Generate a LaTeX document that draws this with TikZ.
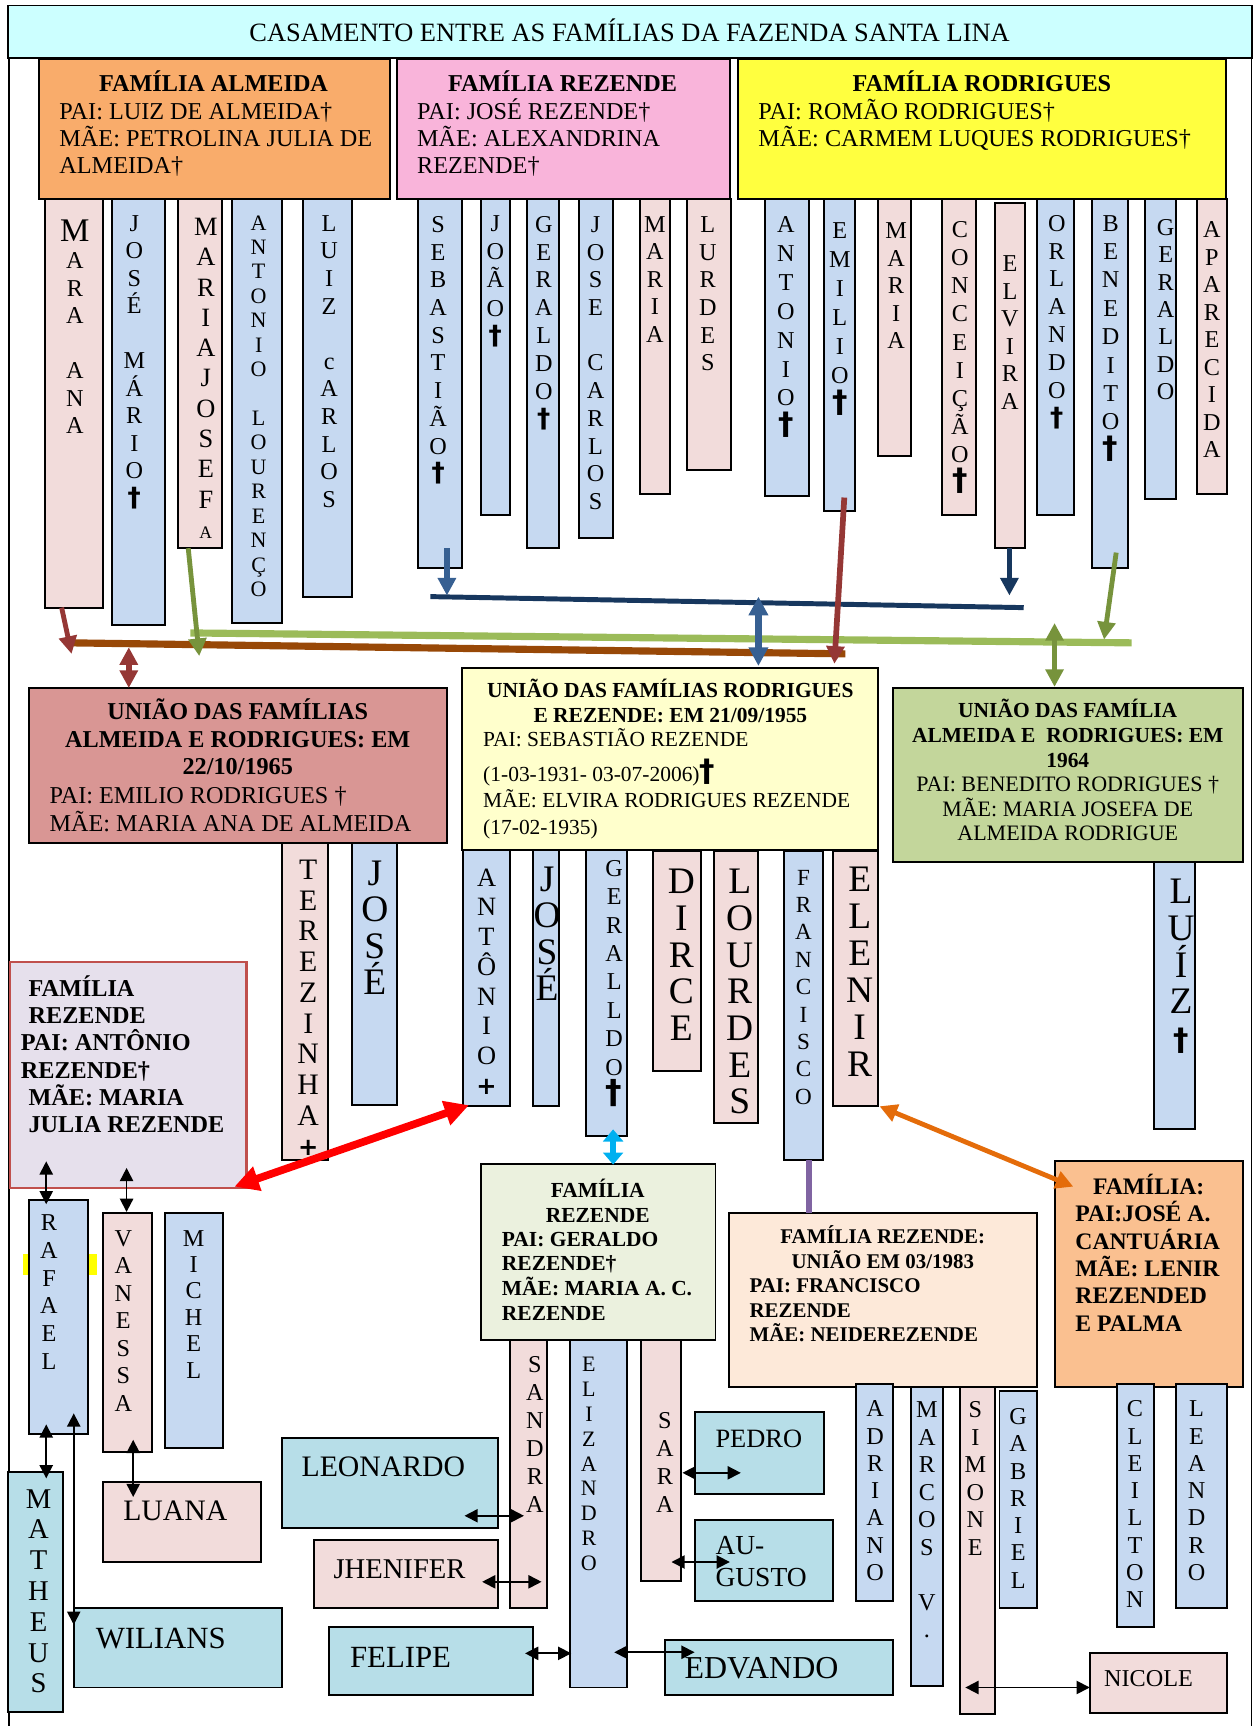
\documentclass[tikz,border=0pt]{standalone}
\usepackage{fontspec}
\setmainfont{Liberation Serif}
\newfontfamily\djv{DejaVu Sans}
\usetikzlibrary{arrows.meta,fit}
\definecolor{cpink}{HTML}{F2DCDB}
\definecolor{cblue}{HTML}{C6D9F1}
\definecolor{cteal}{HTML}{B7DEE8}
\definecolor{ctitle}{HTML}{CCFFFF}
\definecolor{calm}{HTML}{F9AC6B}
\definecolor{crez}{HTML}{F9B4DA}
\definecolor{crod}{HTML}{FFFF3F}
\definecolor{cua}{HTML}{D99694}
\definecolor{cub}{HTML}{FFFFCC}
\definecolor{cuc}{HTML}{C3D69B}
\definecolor{clav}{HTML}{E6E0EC}
\definecolor{cger}{HTML}{EBF1DE}
\definecolor{cfra}{HTML}{FDE9D9}
\definecolor{ccan}{HTML}{FAC090}
\definecolor{kdred}{HTML}{953735}
\definecolor{kolive}{HTML}{77933C}
\definecolor{klgreen}{HTML}{9BBB59}
\definecolor{kbrown}{HTML}{984807}
\definecolor{knavy}{HTML}{17375E}
\definecolor{ksteel}{HTML}{376092}
\definecolor{kcyan}{HTML}{00B0F0}
\definecolor{korange}{HTML}{E46C0A}
\definecolor{kpurple}{HTML}{8064A2}
\definecolor{kframe}{HTML}{C0504D}
\definecolor{khl}{HTML}{FFFF00}

\newcommand\fsz[1]{\fontsize{#1}{#1}\selectfont}
\newcommand\Cstack[2]{\vtop{\baselineskip=#1\lineskiplimit=-100pt\lineskip=0pt\halign{\hfil##\hfil\cr#2\crcr}}}
\newcommand\Lstack[2]{\vtop{\baselineskip=#1\lineskiplimit=-100pt\lineskip=0pt\halign{##\hfil\cr#2\crcr}}}
\newcommand\dg{{\djv\fsz{12}\bfseries †}}
\newcommand\bigdg{{\djv\fsz{14}\bfseries †}}
\newcommand\colbox[4]{\node[colb,fill=#2,fit={(#3)(#4)}] (#1) {};}
\newcommand\coltext[5]{\node[ctext,font=\fsz{#3}] (#1) at (#2) {\Cstack{#4}{#5}};}
\newcommand\conn[4]{\coordinate (#2s) at (#3); \coordinate (#2e) at (#4); \draw[#1] (#2s) -- (#2e);}

\begin{document}
\begin{tikzpicture}[x=0.5pt,y=-0.5pt,
  colb/.style={draw=black,line width=0.9pt,inner sep=0pt,outer sep=0pt},
  famb/.style={draw=black,line width=0.9pt,inner sep=0pt,outer sep=0pt},
  ctext/.style={anchor=base,inner sep=0pt,outer sep=0pt},
  sgl/.style={arrows={-Triangle[width=#1,length=#1]}},
  dbl/.style={arrows={Triangle[width=#1,length=#1]-Triangle[width=#1,length=#1]}},
  thinar/.style={black,line width=0.8pt,dbl=6pt}
]
\useasboundingbox (0,0) rectangle (1140,1568);

% frame lines
\coordinate (fl1) at (8,53); \coordinate (fl2) at (8,1568);
\coordinate (fr1) at (1137,53); \coordinate (fr2) at (1137,1568);
\draw[line width=0.8pt] (fl1) -- (fl2);
\draw[line width=0.8pt] (fr1) -- (fr2);

% title
\node[famb,fill=ctitle,fit={(7,5)(1137,53)}] (title) {};
\node[ctext,font=\fsz{12}] (t-title) at (572,38) {CASAMENTO ENTRE AS FAMÍLIAS DA FAZENDA SANTA LINA};

% ---------- top columns ----------
\colbox{c-maraana}{cpink}{41,181}{94,552}
\coltext{l-maraana}{68,219}{11}{12.5pt}{{\fsz{15}M}\cr A\cr R\cr A\cr ~\cr A\cr N\cr A}
\colbox{c-josemario}{cblue}{102,181}{150,568}
\coltext{l-josemario}{122,210}{11}{12.5pt}{J\cr O\cr S\cr É\cr ~\cr M\cr Á\cr R\cr I\cr O\cr \dg}
\colbox{c-mariajosefa}{cpink}{162,181}{202,498}
\coltext{l-mariajosefa}{187,214}{12}{13.75pt}{M\cr A\cr R\cr I\cr A\cr J\cr O\cr S\cr E\cr F\cr {\fsz{8}A}}
\colbox{c-antoniolourenco}{cblue}{211,181}{256,566}
\coltext{l-antoniolourenco}{235,209}{10}{11.1pt}{A\cr N\cr T\cr O\cr N\cr I\cr O\cr ~\cr L\cr O\cr U\cr R\cr E\cr N\cr Ç\cr O}
\colbox{c-luizcarlos}{cblue}{275,181}{320,542}
\coltext{l-luizcarlos}{299,210}{11}{12.55pt}{L\cr U\cr I\cr Z\cr ~\cr c\cr A\cr R\cr L\cr O\cr S}
\colbox{c-sebastiao}{cblue}{380,181}{420,516}
\coltext{l-sebastiao}{398,211}{11}{12.6pt}{S\cr E\cr B\cr A\cr S\cr T\cr I\cr Ã\cr O\cr \dg}
\colbox{c-joao}{cblue}{437,181}{463,468}
\coltext{l-joao}{450,210}{11}{12.9pt}{J\cr O\cr Ã\cr O\cr \dg}
\colbox{c-geraldoa}{cblue}{479,181}{508,498}
\coltext{l-geraldoa}{494,211}{11}{12.65pt}{G\cr E\cr R\cr A\cr L\cr D\cr O\cr \dg}
\colbox{c-josecarlos}{cblue}{526,181}{557,489}
\coltext{l-josecarlos}{541,211}{11}{12.6pt}{J\cr O\cr S\cr E\cr ~\cr C\cr A\cr R\cr L\cr O\cr S}
\colbox{c-mariarez}{cpink}{581,181}{609,449}
\coltext{l-mariarez}{595,211}{11}{12.5pt}{M\cr A\cr R\cr I\cr A}
\colbox{c-lurdes}{cpink}{624,181}{664,427}
\coltext{l-lurdes}{643,211}{11}{12.6pt}{L\cr U\cr R\cr D\cr E\cr S}
\colbox{c-antoniorod}{cblue}{695,181}{735,451}
\coltext{l-antoniorod}{714,211}{11}{13.15pt}{A\cr N\cr T\cr O\cr N\cr I\cr O\cr \bigdg}
\colbox{c-emilio}{cblue}{749,181}{777,464}
\coltext{l-emilio}{763,217}{11}{13.15pt}{E\cr M\cr I\cr L\cr I\cr O\cr \bigdg}
\colbox{c-mariarod}{cpink}{798,181}{828,414}
\coltext{l-mariarod}{814,217}{11}{12.5pt}{M\cr A\cr R\cr I\cr A}
\colbox{c-conceicao}{cpink}{856,181}{887,468}
\coltext{l-conceicao}{872,216}{11}{12.75pt}{C\cr O\cr N\cr C\cr E\cr I\cr Ç\cr Ã\cr O\cr \bigdg}
\colbox{c-elvira}{cpink}{904,184}{931,498}
\coltext{l-elvira}{917.5,247}{11}{12.5pt}{E\cr L\cr V\cr I\cr R\cr A}
\colbox{c-orlando}{cblue}{942,181}{976,468}
\coltext{l-orlando}{960,210}{11}{12.65pt}{O\cr R\cr L\cr A\cr N\cr D\cr O\cr \dg}
\colbox{c-benedito}{cblue}{992,181}{1025,516}
\coltext{l-benedito}{1009,210}{11}{12.9pt}{B\cr E\cr N\cr E\cr D\cr I\cr T\cr O\cr \bigdg}
\colbox{c-geraldorod}{cblue}{1040,181}{1068,453}
\coltext{l-geraldorod}{1059,214}{11}{12.4pt}{G\cr E\cr R\cr A\cr L\cr D\cr O}
\colbox{c-aparecida}{cpink}{1087,181}{1115,449}
\coltext{l-aparecida}{1101,216}{11}{12.5pt}{A\cr P\cr A\cr R\cr E\cr C\cr I\cr D\cr A}

% ---------- top family boxes ----------
\node[famb,fill=calm,fit={(35,54)(354,181)}] (almeida) {};
\node[ctext,font=\bfseries\fsz{11}] (t-almeida1) at (194,83) {FAMÍLIA ALMEIDA};
\node[ctext,anchor=base west,font=\fsz{11}] (t-almeida2) at (54,109) {\Lstack{12.25pt}{PAI: LUIZ DE ALMEIDA†\cr MÃE: PETROLINA JULIA DE\cr ALMEIDA†}};
\node[famb,fill=crez,fit={(361,54)(663,181)}] (rezende) {};
\node[ctext,font=\bfseries\fsz{11}] (t-rezende1) at (511,83) {FAMÍLIA REZENDE};
\node[ctext,anchor=base west,font=\fsz{11}] (t-rezende2) at (379,109) {\Lstack{12.25pt}{PAI: JOSÉ REZENDE†\cr MÃE: ALEXANDRINA\cr REZENDE†}};
\node[famb,fill=crod,fit={(670,54)(1114,181)}] (rodrigues) {};
\node[ctext,font=\bfseries\fsz{11}] (t-rodrigues1) at (892,83) {FAMÍLIA RODRIGUES};
\node[ctext,anchor=base west,font=\fsz{11}] (t-rodrigues2) at (689,109) {\Lstack{12.25pt}{PAI: ROMÃO RODRIGUES†\cr MÃE: CARMEM LUQUES RODRIGUES†}};

% ---------- second-generation columns ----------
\colbox{c-terezinha}{cpink}{256,766}{298,1054}
\coltext{l-terezinha}{280,799}{13.5}{13.95pt}{T\cr E\cr R\cr E\cr Z\cr I\cr N\cr H\cr A\cr {\djv\bfseries\fsz{11}+}}
\colbox{c-josea}{cblue}{320,766}{361,1004}
\coltext{l-josea}{340.5,804}{17}{16.65pt}{J\cr O\cr S\cr É}
\colbox{c-antoniob}{cblue}{421,772}{463,1005}
\coltext{l-antoniob}{442,805}{12}{13.5pt}{A\cr N\cr T\cr Ô\cr N\cr I\cr O\cr {\djv\bfseries\fsz{11}+}}
\colbox{c-joseb}{cblue}{484,772}{508,1005}
\coltext{l-joseb}{497,810}{17}{16.5pt}{J\cr O\cr S\cr É}
\colbox{c-geraldob}{cblue}{532,766}{570,1032}
\coltext{l-geraldob}{558,796}{11}{12.9pt}{G\cr E\cr R\cr A\cr L\cr L\cr D\cr O\cr {\djv\fsz{15}\bfseries †}}
\colbox{c-dirce}{cpink}{593,773}{637,973}
\coltext{l-dirce}{619,812}{17}{16.65pt}{D\cr I\cr R\cr C\cr E}
\colbox{c-lourdes}{cpink}{649,773}{689,1020}
\coltext{l-lourdes}{672,812}{17}{16.65pt}{L\cr O\cr U\cr R\cr D\cr E\cr S}
\colbox{c-francisco}{cblue}{712,773}{748,1054}
\coltext{l-francisco}{730,804}{10.5}{12.45pt}{F\cr R\cr A\cr N\cr C\cr I\cr S\cr C\cr O}
\colbox{c-elenir}{cpink}{757,773}{798,1005}
\coltext{l-elenir}{781,810}{17}{16.8pt}{E\cr L\cr E\cr N\cr I\cr R}
\colbox{c-luiz}{cblue}{1048,783}{1086,1026}
\coltext{l-luiz}{1073,821}{17}{16.65pt}{L\cr U\cr Í\cr Z\cr \bigdg}

% ---------- union boxes ----------
\node[famb,fill=cua,fit={(26,625)(406,766)}] (unionA) {};
\node[ctext,font=\bfseries\fsz{11}] (t-uA1) at (216,654) {\Cstack{12.5pt}{UNIÃO DAS FAMÍLIAS\cr ALMEIDA E RODRIGUES: EM\cr 22/10/1965}};
\node[ctext,anchor=base west,font=\fsz{11}] (t-uA2) at (45,730) {\Lstack{12.5pt}{PAI: EMILIO RODRIGUES †\cr MÃE: MARIA ANA DE ALMEIDA}};

\node[famb,fill=cub,fit={(420,607)(798,772)}] (unionB) {};
\node[ctext,font=\bfseries\fsz{9.75}] (t-uB1) at (609,634) {\Cstack{11pt}{UNIÃO DAS FAMÍLIAS RODRIGUES\cr E REZENDE: EM 21/09/1955}};
\node[ctext,anchor=base west,font=\fsz{9.75}] (t-uB3) at (439,678) {PAI: SEBASTIÃO REZENDE};
\node[ctext,anchor=base west,font=\fsz{9.75}] (t-uB4) at (439,710) {(1-03-1931- 03-07-2006){\djv\fsz{14}\bfseries †}};
\node[ctext,anchor=base west,font=\fsz{9.75}] (t-uB5) at (439,734) {\Lstack{12pt}{MÃE: ELVIRA RODRIGUES REZENDE\cr (17-02-1935)}};

\node[famb,fill=cuc,fit={(811,625)(1129,783)}] (unionC) {};
\node[ctext,font=\bfseries\fsz{9.75}] (t-uC1) at (970,652) {\Cstack{11.25pt}{UNIÃO DAS FAMÍLIA\cr ALMEIDA E\ \ RODRIGUES: EM\cr 1964}};
\node[ctext,font=\fsz{10}] (t-uC2) at (970,719) {\Cstack{11.25pt}{PAI: BENEDITO RODRIGUES †\cr MÃE: MARIA JOSEFA DE\cr ALMEIDA RODRIGUE}};

% ---------- third-generation family boxes ----------
\node[draw=kframe,line width=1pt,inner sep=0pt,fill=clav,fit={(9,874)(224,1079)}] (famantonio) {};
\node[ctext,anchor=base west,font=\bfseries\fsz{11}] (t-famantonio) at (19,905) {\Lstack{12.4pt}{\hspace{3.5pt}FAMÍLIA\cr \hspace{3.5pt}REZENDE\cr PAI: ANTÔNIO\cr REZENDE†\cr \hspace{3.5pt}MÃE: MARIA\cr \hspace{3.5pt}JULIA REZENDE}};

\node[famb,fill=cger,fit={(437,1057)(650,1217)}] (famgeraldo) {};
\node[ctext,font=\bfseries\fsz{9.75}] (t-famgeraldo1) at (543,1088) {\Cstack{11.1pt}{FAMÍLIA\cr REZENDE}};
\node[ctext,anchor=base west,font=\bfseries\fsz{9.75}] (t-famgeraldo2) at (456,1132) {\Lstack{11.2pt}{PAI: GERALDO\cr REZENDE†\cr MÃE: MARIA A. C.\cr REZENDE}};

\node[famb,fill=cfra,fit={(662,1102)(942,1260)}] (famfrancisco) {};
\node[ctext,font=\bfseries\fsz{9.5}] (t-famfrancisco1) at (802,1130) {\Cstack{11.1pt}{FAMÍLIA REZENDE:\cr UNIÃO EM 03/1983}};
\node[ctext,anchor=base west,font=\bfseries\fsz{9.5}] (t-famfrancisco2) at (681,1174.5) {\Lstack{11.1pt}{PAI: FRANCISCO\cr REZENDE\cr MÃE: NEIDEREZENDE}};

\node[famb,fill=ccan,fit={(958,1055)(1129,1260)}] (famcantuaria) {};
\node[ctext,anchor=base west,font=\bfseries\fsz{10.75}] (t-famcantuaria) at (977,1085) {\Lstack{12.45pt}{\hspace{8pt}FAMÍLIA:\cr PAI:JOSÉ A.\cr CANTUÁRIA\cr MÃE: LENIR\cr REZENDED\cr E PALMA}};

% ---------- fourth generation ----------
\fill[khl] (21,1139) rectangle (88,1158);
\colbox{c-rafael}{cblue}{26,1090}{80,1303}
\coltext{l-rafael}{44.5,1118}{11}{12.6pt}{R\cr A\cr F\cr A\cr E\cr L}
\colbox{c-vanessa}{cpink}{94,1102}{138,1319}
\coltext{l-vanessa}{112,1132}{11}{12.5pt}{V\cr A\cr N\cr E\cr S\cr S\cr A}
\colbox{c-michel}{cblue}{150,1102}{203,1315}
\coltext{l-michel}{176,1132}{11}{12pt}{M\cr I\cr C\cr H\cr E\cr L}
\colbox{c-matheus}{cteal}{7,1337}{57,1555}
\coltext{l-matheus}{35,1370}{13}{14pt}{M\cr A\cr T\cr H\cr E\cr U\cr S}
\node[famb,fill=cpink,fit={(94,1346)(237,1419)}] (luana) {};
\node[ctext,anchor=base west,font=\fsz{13.5}] (t-luana) at (112,1381) {LUANA};
\node[famb,fill=cteal,fit={(67,1461)(256,1533)}] (wilians) {};
\node[ctext,anchor=base west,font=\fsz{14}] (t-wilians) at (87,1498) {WILIANS};
\node[famb,fill=cteal,fit={(256,1306)(452,1388)}] (leonardo) {};
\node[ctext,anchor=base west,font=\fsz{13.5}] (t-leonardo) at (274,1341) {LEONARDO};
\node[famb,fill=cpink,fit={(285,1399)(452,1461)}] (jhenifer) {};
\node[ctext,anchor=base west,font=\fsz{13}] (t-jhenifer) at (303,1434) {JHENIFER};
\node[famb,fill=cteal,fit={(299,1478)(484,1540)}] (felipe) {};
\node[ctext,anchor=base west,font=\fsz{14}] (t-felipe) at (318,1515) {FELIPE};
\colbox{c-sandra}{cpink}{463,1217}{497,1461}
\coltext{l-sandra}{486,1247}{11}{12.7pt}{S\cr A\cr N\cr D\cr R\cr A}
\colbox{c-elizandro}{cblue}{518,1217}{570,1533}
\coltext{l-elizandro}{535,1246}{10}{11.3pt}{E\cr L\cr I\cr Z\cr A\cr N\cr D\cr R\cr O}
\colbox{c-sara}{cpink}{582,1217}{619,1436}
\coltext{l-sara}{604,1298}{11}{12.65pt}{S\cr A\cr R\cr A}
\node[famb,fill=cteal,fit={(631,1283)(749,1357)}] (pedro) {};
\node[ctext,anchor=base west,font=\fsz{12}] (t-pedro) at (650,1315) {PEDRO};
\node[famb,fill=cteal,fit={(631,1381)(757,1454)}] (augusto) {};
\node[ctext,anchor=base west,font=\fsz{12.5}] (t-augusto) at (650,1412) {\Lstack{14.5pt}{AU-\cr GUSTO}};
\node[famb,fill=cteal,fit={(604,1490)(811,1540)}] (edvando) {};
\node[ctext,anchor=base west,font=\fsz{14.5}] (t-edvando) at (622,1525) {EDVANDO};
\colbox{c-adriano}{cblue}{778,1257}{811,1454}
\coltext{l-adriano}{795,1287}{11}{12.4pt}{A\cr D\cr R\cr I\cr A\cr N\cr O}
\colbox{c-marcos}{cblue}{828,1260}{857,1532}
\coltext{l-marcos}{842,1288}{11}{12.5pt}{M\cr A\cr R\cr C\cr O\cr S\cr ~\cr V\cr .}
\colbox{c-simone}{cpink}{872,1260}{904,1557}
\coltext{l-simone}{886,1288}{11}{12.5pt}{S\cr I\cr M\cr O\cr N\cr E}
\colbox{c-gabriel}{cblue}{908,1264}{942,1461}
\coltext{l-gabriel}{925,1294}{11}{12.4pt}{G\cr A\cr B\cr R\cr I\cr E\cr L}
\colbox{c-cleilton}{cblue}{1015,1257}{1048,1478}
\coltext{l-cleilton}{1031,1287}{11}{12.4pt}{C\cr L\cr E\cr I\cr L\cr T\cr O\cr N}
\colbox{c-leandro}{cblue}{1068,1257}{1115,1461}
\coltext{l-leandro}{1087,1287}{11}{12.4pt}{L\cr E\cr A\cr N\cr D\cr R\cr O}
\node[famb,fill=cpink,fit={(990,1502)(1115,1556)}] (nicole) {};
\node[ctext,anchor=base west,font=\fsz{11}] (t-nicole) at (1003,1532) {NICOLE};

% ---------- bars ----------
\conn{klgreen,line width=3.25pt}{bar-green}{173,575}{1028,584}
\conn{kbrown,line width=3.25pt}{bar-brown}{65,584}{768,594}
\conn{knavy,line width=2.25pt}{bar-navy}{391,542}{930,552}

% ---------- coloured connectors ----------
\conn{kdred,line width=2.2pt,sgl=8pt}{a1}{56,552}{65,594}
\conn{kolive,line width=2.2pt,sgl=8pt}{a2}{171,498}{181,596}
\conn{kdred,line width=2.6pt,dbl=8pt}{a3}{117,588}{117,625}
\conn{ksteel,line width=2.6pt,sgl=8pt}{a4}{406,498}{406,541}
\conn{knavy,line width=2.2pt,sgl=8pt}{a5}{917,498}{917,541}
\conn{ksteel,line width=3pt,dbl=8.5pt}{a6}{689,542}{689,605}
\conn{kdred,line width=2.6pt,sgl=8pt}{a7}{767,452}{758,603}
\conn{kolive,line width=2.2pt,sgl=8pt}{a8}{1014,502}{1003,581}
\conn{kolive,line width=2.6pt,dbl=8pt}{a9}{958,566}{958,624}
\conn{red,line width=3.5pt,dbl=11pt}{a10}{426,1004}{213,1078}
\conn{kcyan,line width=3pt,arrows={Triangle[width=9pt,length=5.5pt]-Triangle[width=9pt,length=5.5pt]}}{a11}{557,1026}{557,1058}
\conn{kpurple,line width=2.5pt}{a12}{735,1054}{735,1102}
\conn{korange,line width=2.2pt,dbl=8pt}{a13}{799,1005}{975,1078}

% ---------- black connectors ----------
\conn{thinar}{b1}{42,1055}{42,1094}
\conn{thinar}{b2}{115,1061}{115,1101}
\conn{thinar}{b3}{42,1294}{42,1343}
\conn{thinar}{b4}{67,1284}{67,1476}
\conn{thinar}{b5}{121,1308}{121,1360}
\conn{thinar}{b6}{422,1377}{476,1377}
\conn{thinar}{b7}{438,1437}{492,1437}
\conn{thinar}{b8}{477,1502}{519,1502}
\conn{thinar}{b9}{558,1501}{631,1501}
\conn{thinar}{b10}{620,1338}{673,1338}
\conn{thinar}{b11}{610,1419}{663,1419}
\conn{thinar}{b12}{877,1533}{990,1533}
\end{tikzpicture}
\end{document}
